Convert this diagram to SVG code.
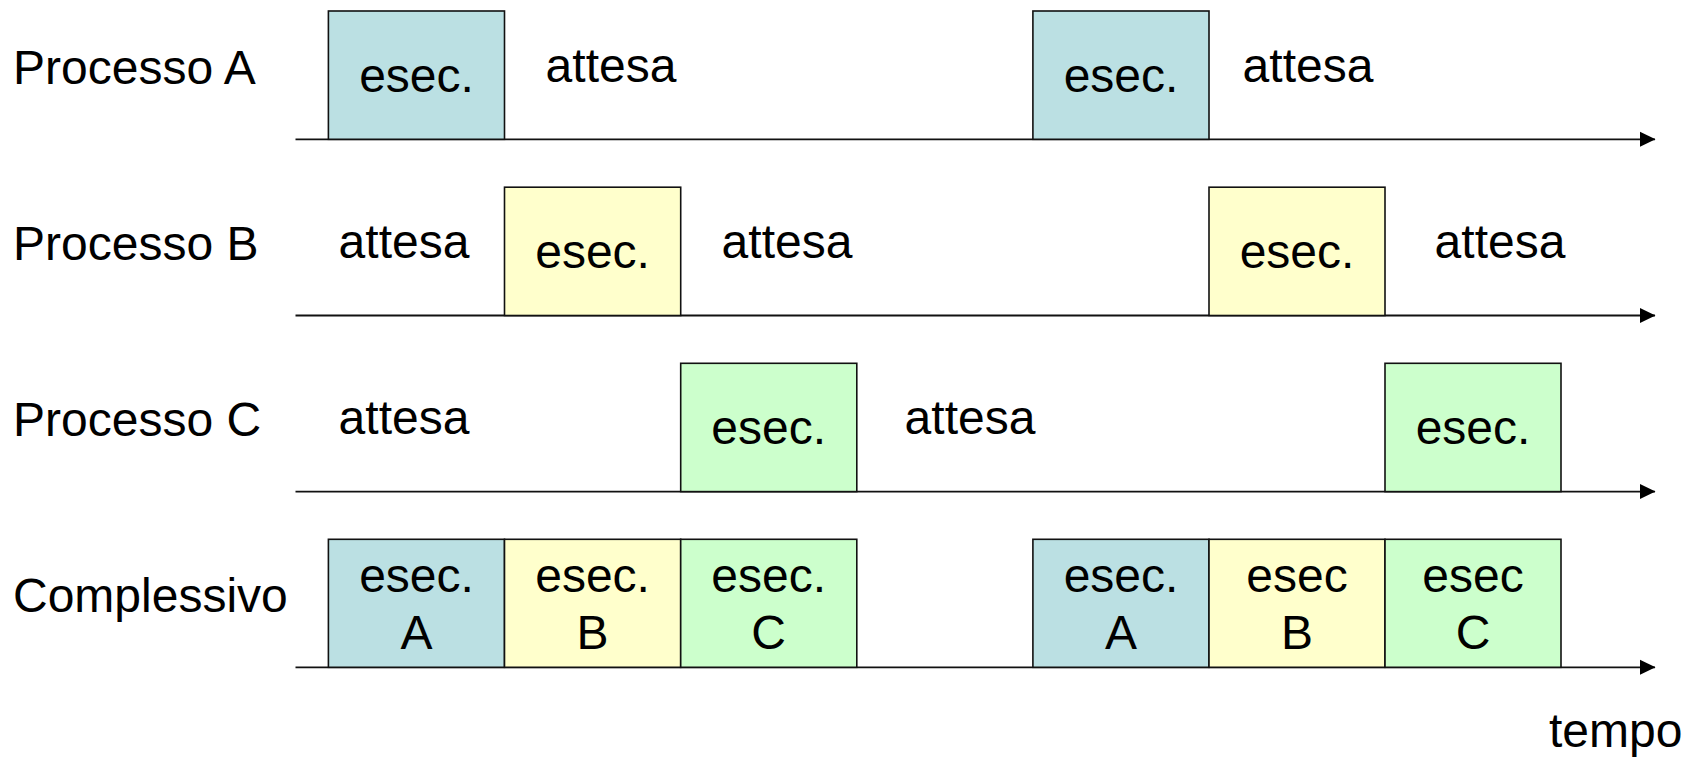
<svg xmlns="http://www.w3.org/2000/svg" width="1694" height="763" viewBox="0 0 1694 763">
  <style>
    text { font-family: "Liberation Sans", Arial, sans-serif; font-size: 48px; fill: #000; }
    .mid { text-anchor: middle; }
    .box { stroke: #111; stroke-width: 1.6; }
    .pa { fill: #BBE0E3; }
    .pb { fill: #FFFFCC; }
    .pc { fill: #CCFFCC; }
    .axis { stroke: #111; stroke-width: 1.8; fill: none; }
  </style>
  <defs>
    <marker id="arrow" markerUnits="userSpaceOnUse" markerWidth="16" markerHeight="16" viewBox="0 0 16 16" refX="15" refY="8" orient="auto">
      <polygon points="0,0.5 15.5,8 0,15.5" fill="#000"/>
    </marker>
  </defs>
  <rect width="1694" height="763" fill="#fff"/>

  <!-- row labels -->
  <g id="labels">
    <text x="13" y="84">Processo A</text>
    <text x="13" y="260">Processo B</text>
    <text x="13" y="436">Processo C</text>
    <text x="13" y="612">Complessivo</text>
    <text x="1549" y="747">tempo</text>
  </g>

  <!-- waiting periods -->
  <g id="waits">
    <text class="mid" x="611" y="82">attesa</text>
    <text class="mid" x="1308" y="82">attesa</text>
    <text class="mid" x="404" y="258">attesa</text>
    <text class="mid" x="787" y="258">attesa</text>
    <text class="mid" x="1500" y="258">attesa</text>
    <text class="mid" x="404" y="434">attesa</text>
    <text class="mid" x="970" y="434">attesa</text>
  </g>

  <!-- time axes -->
  <g id="connectors">
    <line class="axis" x1="295.5" y1="139.3" x2="1655" y2="139.3" marker-end="url(#arrow)"/>
    <line class="axis" x1="295.5" y1="315.5" x2="1655" y2="315.5" marker-end="url(#arrow)"/>
    <line class="axis" x1="295.5" y1="491.6" x2="1655" y2="491.6" marker-end="url(#arrow)"/>
    <line class="axis" x1="295.5" y1="667.3" x2="1655" y2="667.3" marker-end="url(#arrow)"/>
  </g>

  <!-- process A -->
  <g id="a1">
    <rect class="box pa" x="328.4" y="11" width="176.1" height="128.3"/>
    <text class="mid" x="416.5" y="92">esec.</text>
  </g>
  <g id="a2">
    <rect class="box pa" x="1032.9" y="11" width="176.1" height="128.3"/>
    <text class="mid" x="1121" y="92">esec.</text>
  </g>

  <!-- process B -->
  <g id="b1">
    <rect class="box pb" x="504.5" y="187.2" width="176.2" height="128.3"/>
    <text class="mid" x="592.6" y="268">esec.</text>
  </g>
  <g id="b2">
    <rect class="box pb" x="1209" y="187.2" width="176" height="128.3"/>
    <text class="mid" x="1297" y="268">esec.</text>
  </g>

  <!-- process C -->
  <g id="c1">
    <rect class="box pc" x="680.7" y="363.3" width="176.1" height="128.3"/>
    <text class="mid" x="768.7" y="444">esec.</text>
  </g>
  <g id="c2">
    <rect class="box pc" x="1385" y="363.3" width="176" height="128.3"/>
    <text class="mid" x="1473" y="444">esec.</text>
  </g>

  <!-- overall schedule -->
  <g id="t1">
    <rect class="box pa" x="328.4" y="539.3" width="176.1" height="128"/>
    <text class="mid" x="416.5" y="591.7">esec.</text>
    <text class="mid" x="416.5" y="649.3">A</text>
  </g>
  <g id="t2">
    <rect class="box pb" x="504.5" y="539.3" width="176.2" height="128"/>
    <text class="mid" x="592.6" y="591.7">esec.</text>
    <text class="mid" x="592.6" y="649.3">B</text>
  </g>
  <g id="t3">
    <rect class="box pc" x="680.7" y="539.3" width="176.1" height="128"/>
    <text class="mid" x="768.7" y="591.7">esec.</text>
    <text class="mid" x="768.7" y="649.3">C</text>
  </g>
  <g id="t4">
    <rect class="box pa" x="1032.9" y="539.3" width="176.1" height="128"/>
    <text class="mid" x="1121" y="591.7">esec.</text>
    <text class="mid" x="1121" y="649.3">A</text>
  </g>
  <g id="t5">
    <rect class="box pb" x="1209" y="539.3" width="176" height="128"/>
    <text class="mid" x="1297" y="591.7">esec</text>
    <text class="mid" x="1297" y="649.3">B</text>
  </g>
  <g id="t6">
    <rect class="box pc" x="1385" y="539.3" width="176" height="128"/>
    <text class="mid" x="1473" y="591.7">esec</text>
    <text class="mid" x="1473" y="649.3">C</text>
  </g>
</svg>
